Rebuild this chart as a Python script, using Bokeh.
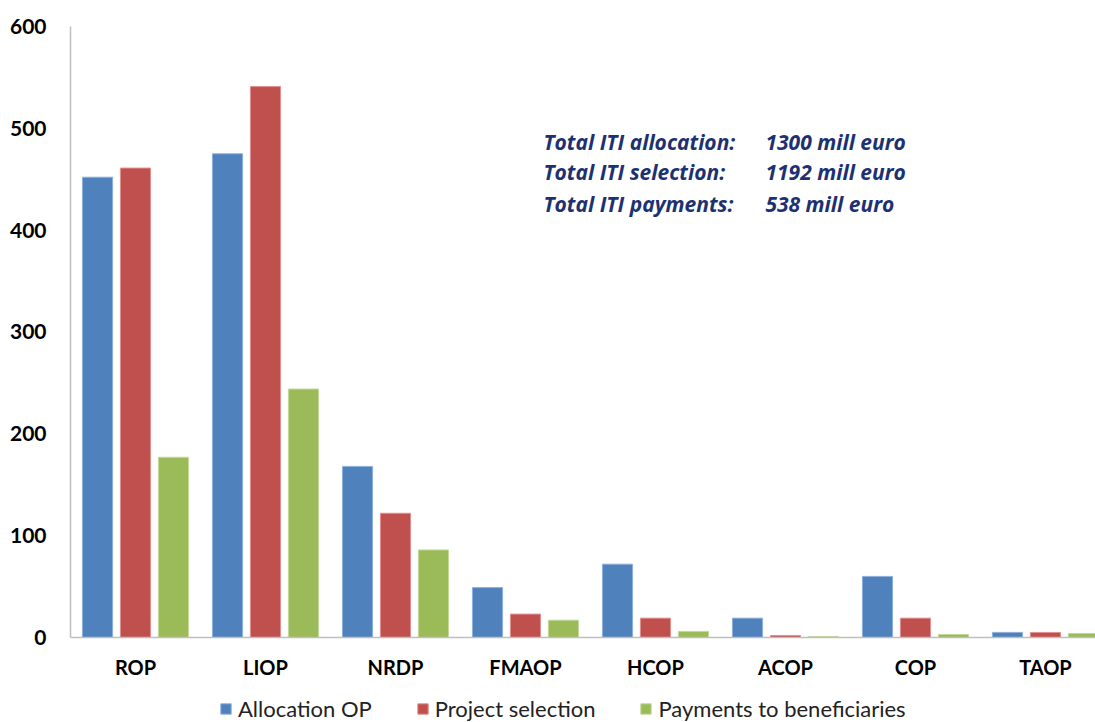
import numpy as np
from bokeh.plotting import figure
from bokeh.models import Range1d, FixedTicker, Label, Legend, LegendItem
from bokeh.embed import file_html
from bokeh.resources import INLINE

# Operational programmes and ITI amounts (mill euro)
programmes = ["ROP", "LIOP", "NRDP", "FMAOP", "HCOP", "ACOP", "COP", "TAOP"]
allocation_op = [452, 475, 168, 49, 72, 19, 60, 5]
project_selection = [461, 541, 122, 23, 19, 2, 19, 5]
payments_to_beneficiaries = [177, 244, 86, 17, 6, 1, 3, 4]

series_names = ["Allocation OP", "Project selection", "Payments to beneficiaries"]
series_colors = ["#4f81bd", "#c0504d", "#9bbb59"]
series_edges = ["#8db0dc", "#e0908e", "#c3d99a"]

totals_labels = ["Total ITI allocation:", "Total ITI selection:", "Total ITI payments:"]
totals_values = ["1300 mill euro", "1192 mill euro", "538 mill euro"]

y_ticks = [0, 100, 200, 300, 400, 500, 600]

FONT = "Lato"

# The frame reaches the page bottom so the legend can sit under the category axis,
# which is pinned at y = 0.
p = figure(
    frame_width=1025, frame_height=696,
    x_range=Range1d(0, 7.885), y_range=Range1d(-83.47, 600),
    output_backend="svg", toolbar_location=None,
    min_border_left=70, min_border_right=0, min_border_top=26, min_border_bottom=0,
)
p.outline_line_color = None
p.grid.grid_line_color = None

centers = np.arange(len(programmes)) + 0.5
offsets = [-0.292, 0.0, 0.292]
renderers = []
for vals, off, col, edge in zip(
    [allocation_op, project_selection, payments_to_beneficiaries],
    offsets, series_colors, series_edges,
):
    r = p.vbar(x=centers + off, top=vals, width=0.232, fill_color=col,
               line_color=edge, line_width=1)
    renderers.append(r)

# Axes
xa = p.xaxis[0]
xa.fixed_location = 0
xa.ticker = FixedTicker(ticks=list(centers))
xa.major_label_overrides = {float(c): name for c, name in zip(centers, programmes)}
xa.major_tick_line_color = None
xa.minor_tick_line_color = None
xa.axis_line_color = "#bfbfbf"
xa.axis_line_width = 1.5
xa.major_label_text_font = FONT
xa.major_label_text_font_style = "bold"
xa.major_label_text_font_size = "20px"
xa.major_label_text_color = "#000000"
xa.major_label_standoff = 12

ya = p.yaxis[0]
ya.bounds = (0, 600)
ya.ticker = FixedTicker(ticks=y_ticks)
ya.major_tick_line_color = None
ya.minor_tick_line_color = None
ya.axis_line_color = "#bfbfbf"
ya.axis_line_width = 1.5
ya.major_label_text_font = FONT
ya.major_label_text_font_style = "bold"
ya.major_label_text_font_size = "21px"
ya.major_label_text_color = "#000000"
ya.major_label_standoff = 18

# Totals box
row_y = [487, 457, 426]
for lbl, val, yy in zip(totals_labels, totals_values, row_y):
    for txt, xx in ((lbl, 3.638), (val, 5.346)):
        p.add_layout(Label(
            x=xx, y=yy, text=txt, text_font="Open Sans", text_font_style="bold italic",
            text_font_size="21px", text_color="#1d3172", text_baseline="middle",
        ))

legend = Legend(
    items=[LegendItem(label=n, renderers=[r]) for n, r in zip(series_names, renderers)],
    orientation="horizontal", location=(149, 0),
    label_text_font=FONT, label_text_font_size="22px", label_text_color="#222222",
    glyph_width=13, glyph_height=13, spacing=44, label_standoff=6,
    border_line_color=None, background_fill_alpha=0, padding=0, margin=0,
)
p.add_layout(legend, "center")

open("out.html", "w").write(file_html(p, INLINE))
